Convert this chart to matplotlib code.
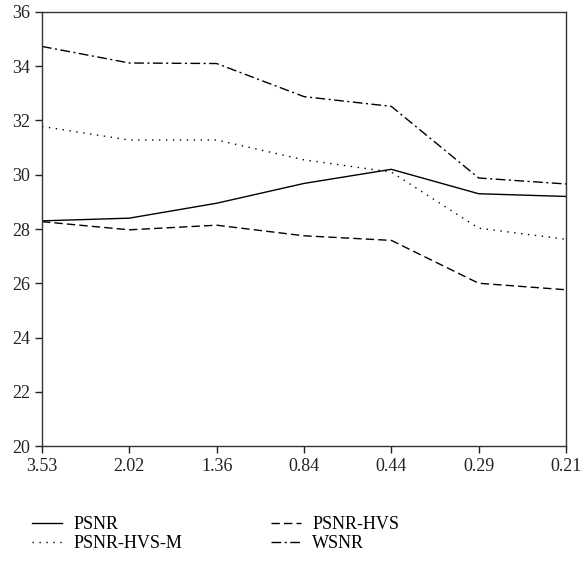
import matplotlib.pyplot as plt
import numpy as np

# bit rates (bpp) on the x axis, shown as equally spaced categories
rates = ['3.53', '2.02', '1.36', '0.84', '0.44', '0.29', '0.21']

psnr = [28.30, 28.40, 28.95, 29.68, 30.20, 29.30, 29.20]
psnr_hvs = [28.27, 27.97, 28.14, 27.75, 27.58, 26.00, 25.76]
psnr_hvs_m = [31.78, 31.28, 31.28, 30.55, 30.10, 28.03, 27.62]
wsnr = [34.73, 34.12, 34.10, 32.88, 32.52, 29.88, 29.66]

plt.rcParams['font.family'] = ['Liberation Serif', 'DejaVu Serif']

fig = plt.figure(figsize=(5.88, 5.63), dpi=100)
ax = fig.add_axes([0.0714, 0.2078, 0.8912, 0.7709])

x = np.arange(len(rates))
lw = 1.0
l1, = ax.plot(x, psnr, color='black', lw=lw, linestyle='-', label='PSNR')
l2, = ax.plot(x, psnr_hvs, color='black', lw=lw, linestyle=(0, (6, 3)), label='PSNR-HVS')
l3, = ax.plot(x, psnr_hvs_m, color='black', lw=lw, linestyle=(0, (1, 4)), label='PSNR-HVS-M')
l4, = ax.plot(x, wsnr, color='black', lw=lw, linestyle=(0, (7, 2.5, 1.5, 2.5)), label='WSNR')

ax.set_xlim(0, len(rates) - 1)
ax.set_ylim(20, 36)
ax.set_xticks(x)
ax.set_xticklabels(rates)
ax.set_yticks(np.arange(20, 37, 2))
ax.tick_params(direction='out', length=5, width=1, labelsize=13, colors='#222222')
for s in ax.spines.values():
    s.set_linewidth(1.0)
    s.set_color('#333333')

# row-major order: PSNR, PSNR-HVS / PSNR-HVS-M, WSNR
fig.legend([l1, l3, l2, l4], ['PSNR', 'PSNR-HVS-M', 'PSNR-HVS', 'WSNR'],
           loc='upper left', bbox_to_anchor=(0.054, 0.083), ncol=2, frameon=False,
           fontsize=13, handlelength=1.7, columnspacing=4.9, labelspacing=0.1,
           handletextpad=0.6, borderaxespad=0, borderpad=0)

fig.savefig('out.png', dpi=100)
